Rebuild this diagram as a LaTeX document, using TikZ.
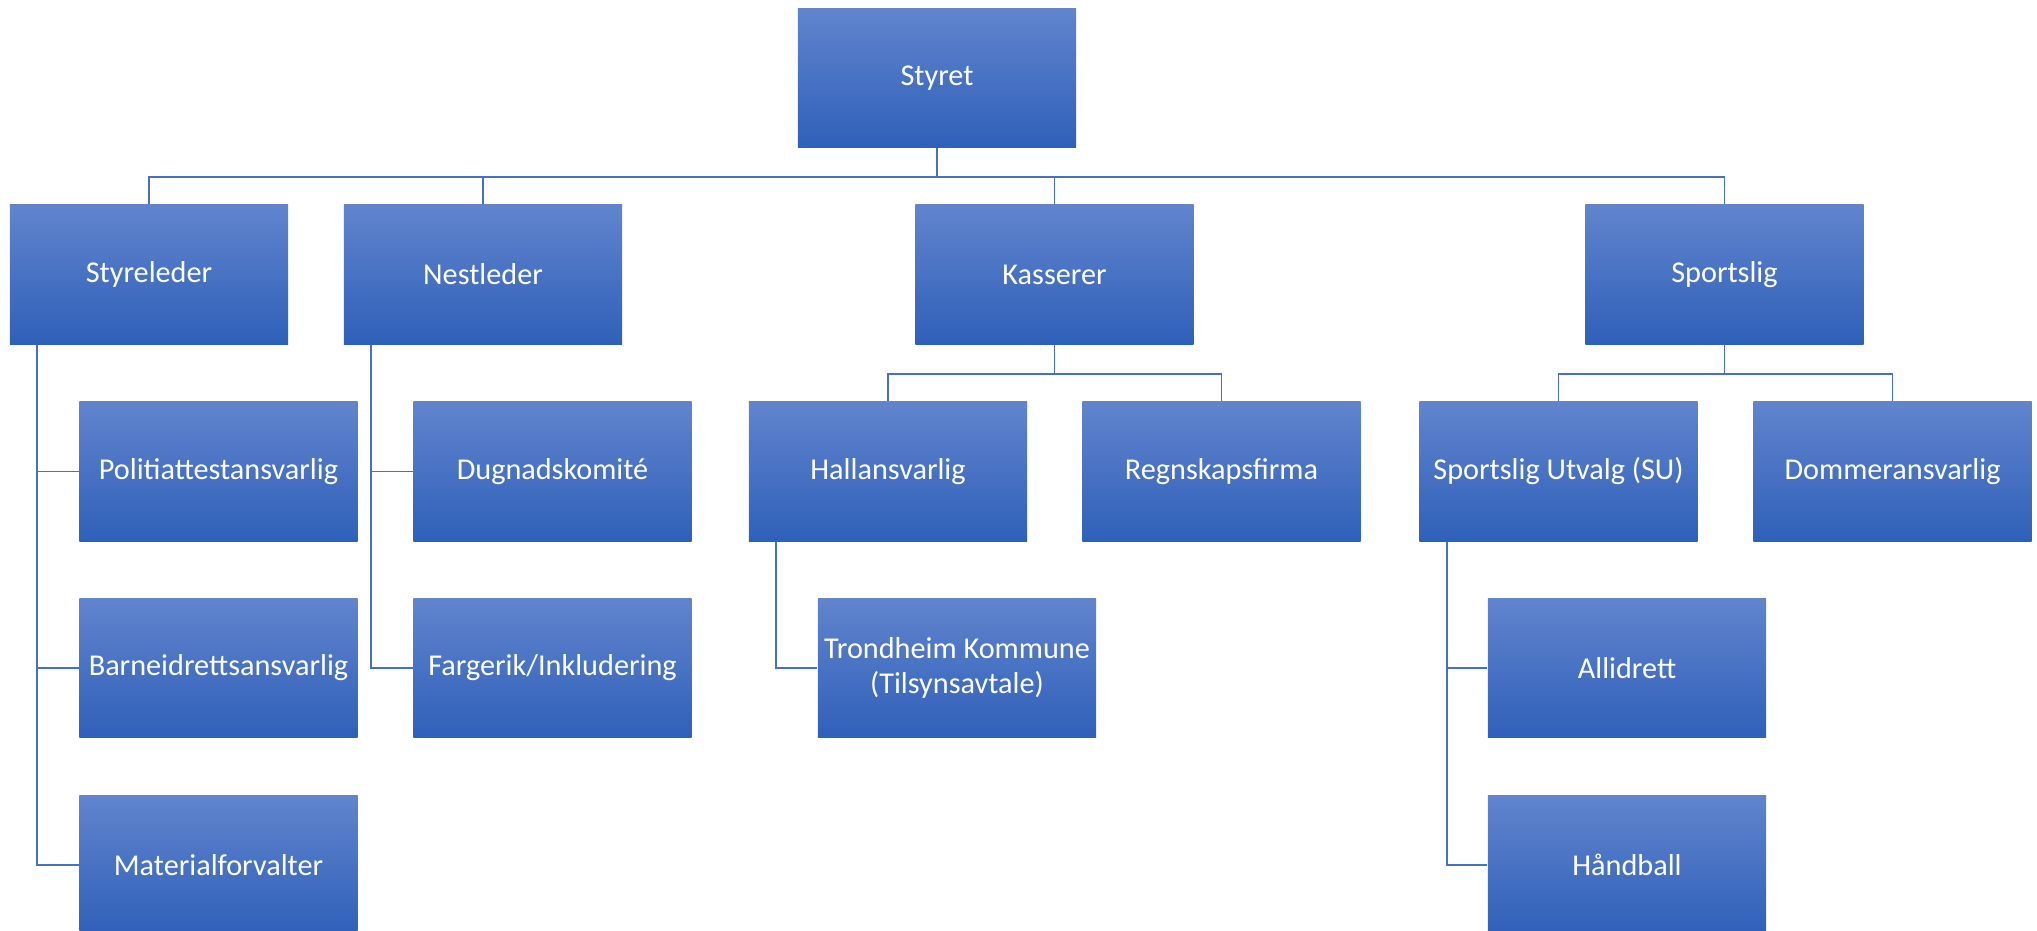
\documentclass[tikz,border=0pt]{standalone}
\usepackage{fontspec}
\setmainfont{Carlito}
\usepackage{tikz}
\usetikzlibrary{calc}

\definecolor{boxtop}{RGB}{97,132,205}
\definecolor{boxmid}{RGB}{68,115,203}
\definecolor{boxbot}{RGB}{47,96,185}
\definecolor{linkblue}{RGB}{72,112,192}

\begin{document}
\begin{tikzpicture}[x=0.01cm,y=-0.01cm,
    box/.style={minimum width=2.78cm,minimum height=1.39cm,inner sep=0pt,
      top color=boxtop,middle color=boxmid,bottom color=boxbot,
      text=white,align=center,font=\fontsize{8.6}{10.2}\selectfont},
    link/.style={draw=linkblue,line width=0.45pt}]
          \useasboundingbox (0,0) rectangle (2037,931);
          \node[box] (styret) at (937,78) {Styret};
          \node[box] (leder) at (149,274.5) {Styreleder};
          \node[box] (nest) at (483,274.5) {Nestleder};
          \node[box] (kasse) at (1054.5,274.5) {Kasserer};
          \node[box] (sport) at (1724.5,274.5) {Sportslig};
          \node[box] (politi) at (218.5,471.5) {Politiattestansvarlig};
          \node[box] (barne) at (218.5,668) {Barneidrettsansvarlig};
          \node[box] (materiell) at (218.5,865) {Materialforvalter};
          \node[box] (dugnad) at (552.5,471.5) {Dugnadskomité};
          \node[box] (farge) at (552.5,668) {Fargerik/Inkludering};
          \node[box] (hall) at (888,471.5) {Hallansvarlig};
          \node[box] (regnskap) at (1221.5,471.5) {Regnskapsfirma};
          \node[box] (kommune) at (957,668) {Trondheim Kommune\\(Tilsynsavtale)};
          \node[box] (su) at (1558.5,471.5) {Sportslig Utvalg (SU)};
          \node[box] (dommer) at (1892.5,471.5) {Dommeransvarlig};
          \node[box] (alli) at (1627,668) {Allidrett};
          \node[box] (hand) at (1627,865) {Håndball};
          \coordinate (bus) at (937,177);
          \draw[link] (styret.south) -- (bus);
          \draw[link] (leder.north) |- (bus) -| (sport.north);
          \draw[link] (nest.north) -- (nest.north |- bus);
          \draw[link] (kasse.north) -- (kasse.north |- bus);
          \draw[link] (kasse.south) -- ++(0,29) coordinate (kbus);
          \draw[link] (hall.north) |- (kbus) -| (regnskap.north);
          \draw[link] (sport.south) -- ++(0,29) coordinate (sbus);
          \draw[link] (su.north) |- (sbus) -| (dommer.north);
          \coordinate (lederleg) at ($(leder.south west)+(28,0)$);
          \draw[link] (lederleg) |- (materiell.west);
          \draw[link] (politi.west) -- (politi.west -| lederleg);
          \draw[link] (barne.west) -- (barne.west -| lederleg);
          \coordinate (nestleg) at ($(nest.south west)+(28,0)$);
          \draw[link] (nestleg) |- (farge.west);
          \draw[link] (dugnad.west) -- (dugnad.west -| nestleg);
          \coordinate (hallleg) at ($(hall.south west)+(28,0)$);
          \draw[link] (hallleg) |- (kommune.west);
          \coordinate (suleg) at ($(su.south west)+(28,0)$);
          \draw[link] (suleg) |- (hand.west);
          \draw[link] (alli.west) -- (alli.west -| suleg);
        \end{tikzpicture}
\end{document}
